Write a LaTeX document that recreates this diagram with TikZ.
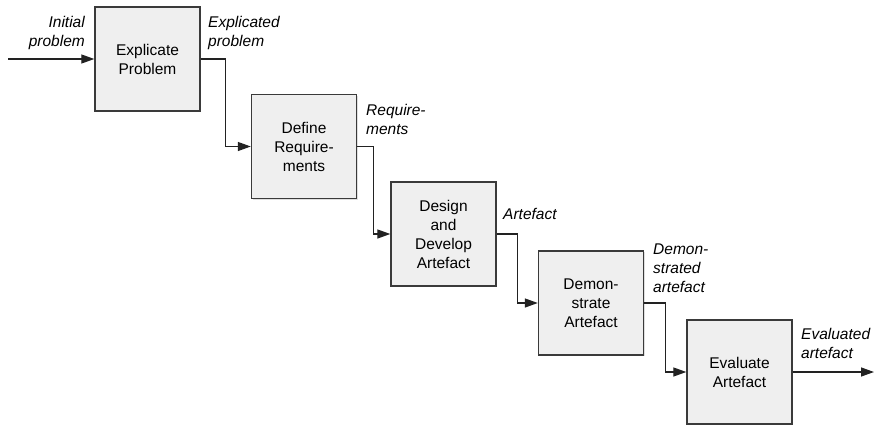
\documentclass[tikz,border=0pt]{standalone}
\usepackage{fontspec}
\setmainfont{Liberation Sans}
\usetikzlibrary{arrows.meta,calc,shadows}
\definecolor{boxfill}{HTML}{EFEFEF}
\definecolor{boxline}{HTML}{3A3A3A}
\definecolor{conn}{HTML}{222222}
\begin{document}
\begin{tikzpicture}[x=1pt,y=-1pt,
  stage/.style={draw=boxline, line width=1.4pt, fill=boxfill, minimum width=105pt, minimum height=104pt,
    inner sep=0pt, align=center, font=\fontsize{15.5}{19}\selectfont,
    drop shadow={shadow xshift=1.2pt, shadow yshift=-1.2pt, opacity=0.25}},
  lbl/.style={inner sep=0pt, font=\fontsize{15.5}{19}\selectfont\itshape},
  arr/.style={draw=conn, line width=1.3pt, -{Triangle[length=13pt,width=9pt]}}]
\useasboundingbox (0,0) rectangle (874,425);
\node[stage] (b1) at (147.5,59) {Explicate\\Problem};
\node[stage] (b2) at (304,146.5) {Define\\Require-\\ments};
\node[stage] (b3) at (443.5,234) {Design\\and\\Develop\\Artefact};
\node[stage] (b4) at (591,303) {Demon-\\strate\\Artefact};
\node[stage] (b5) at (739.5,372) {Evaluate\\Artefact};
\coordinate (in) at (8,59);
\coordinate (out) at (874,372);
\draw[arr] (in) -- (b1.west);
\draw[arr] (b1.east) -| ($(b1.east)!.5!(b2.west)$) |- (b2.west);
\draw[arr] (b2.east) -| ($(b2.east)!.5!(b3.west)$) |- (b3.west);
\draw[arr] (b3.east) -| ($(b3.east)!.5!(b4.west)$) |- (b4.west);
\draw[arr] (b4.east) -| ($(b4.east)!.5!(b5.west)$) |- (b5.west);
\draw[arr] (b5.east) -- (out);
\node[lbl, anchor=north east, align=right] (l0) at (85,16) {Initial\\problem};
\node[lbl, anchor=north west, align=left] (l1) at (208,16) {Explicated\\problem};
\node[lbl, anchor=north west, align=left] (l2) at (366,104) {Require-\\ments};
\node[lbl, anchor=north west, align=left] (l3) at (503,208) {Artefact};
\node[lbl, anchor=north west, align=left] (l4) at (653,244) {Demon-\\strated\\artefact};
\node[lbl, anchor=north west, align=left] (l5) at (801,328) {Evaluated\\artefact};
\end{tikzpicture}
\end{document}
